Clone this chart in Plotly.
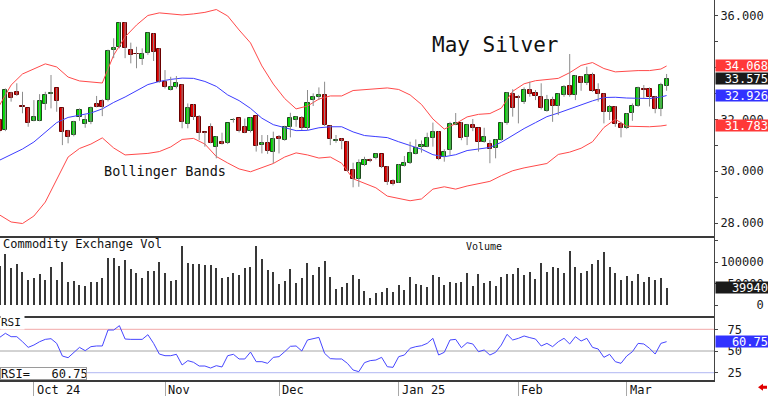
import plotly.graph_objects as go

# ---------------- data ----------------
tick_idx = [6, 29, 49, 70, 91, 110]
tick_labels = ["Oct 24", "Nov", "Dec", "Jan 25", "Feb", "Mar"]

opens = [31.97, 31.59, 33.01, 33.05, 32.52, 32.43, 31.96, 31.95, 32.60, 32.98,
         33.20, 32.43, 31.55, 31.40, 32.11, 31.83, 31.91, 32.60, 32.72, 32.75,
         34.70, 34.81, 35.74, 34.69, 34.55, 34.33, 34.56, 35.29, 34.71, 33.46,
         33.14, 33.24, 33.33, 31.83, 32.56, 32.11, 31.50, 31.70, 30.95, 31.14,
         31.08, 31.97, 32.04, 31.72, 31.57, 32.13, 31.00, 31.10, 30.76, 31.34,
         31.21, 31.70, 31.99, 32.04, 31.66, 32.75, 32.86, 32.95, 31.75, 31.18,
         31.26, 31.14, 30.05, 29.69, 30.24, 30.45, 30.50, 30.65, 30.18, 29.63,
         29.56, 30.20, 30.31, 30.67, 30.93, 30.95, 31.27, 31.53, 30.56, 30.82,
         31.80, 31.85, 31.34, 31.79, 31.66, 31.14, 31.05, 30.89, 31.21, 31.85,
         32.98, 32.86, 32.69, 33.14, 33.04, 32.88, 32.34, 32.75, 32.52, 32.95,
         33.29, 32.95, 33.65, 33.40, 33.72, 33.14, 32.98, 32.30, 32.47, 31.83,
         31.66, 32.24, 32.52, 33.19, 33.17, 32.88, 32.39, 33.29]
highs = [32.05, 33.20, 33.07, 33.40, 33.07, 32.45, 32.75, 32.98, 33.07, 33.72,
         33.22, 32.45, 31.60, 31.95, 32.43, 32.17, 32.50, 32.91, 32.78, 34.70,
         35.14, 35.76, 35.76, 34.97, 34.81, 34.75, 35.36, 35.33, 34.75, 33.91,
         33.65, 33.68, 33.36, 32.62, 32.60, 32.17, 31.53, 31.85, 31.36, 31.49,
         31.87, 32.05, 32.06, 32.04, 32.08, 32.15, 31.40, 31.40, 31.53, 31.40,
         31.76, 32.26, 32.13, 32.13, 33.14, 33.01, 33.24, 33.46, 31.77, 31.40,
         31.27, 31.16, 30.33, 30.46, 30.56, 30.50, 30.69, 30.67, 30.20, 29.69,
         30.28, 30.59, 31.14, 31.23, 31.19, 31.49, 31.88, 31.55, 30.85, 31.91,
         32.25, 31.90, 31.83, 32.02, 31.68, 31.68, 31.21, 31.23, 31.90, 33.06,
         33.17, 32.95, 33.24, 33.46, 33.14, 33.40, 32.95, 32.88, 33.01, 33.33,
         34.53, 33.72, 33.68, 34.04, 33.81, 33.40, 33.01, 32.56, 32.52, 31.91,
         32.24, 32.62, 33.27, 33.33, 33.24, 32.91, 33.42, 33.76]
lows = [31.50, 31.55, 32.69, 32.91, 32.24, 31.72, 31.93, 31.93, 32.37, 32.43,
        32.30, 31.01, 31.08, 31.35, 31.95, 31.68, 31.82, 32.47, 32.13, 32.70,
        34.37, 34.75, 34.37, 34.17, 33.98, 34.11, 34.50, 34.26, 33.42, 33.20,
        33.12, 33.20, 31.66, 31.66, 31.98, 31.21, 30.95, 31.08, 30.50, 31.03,
        31.05, 31.88, 31.50, 31.47, 31.50, 30.76, 30.69, 30.67, 30.31, 30.69,
        31.18, 31.31, 31.72, 31.59, 31.59, 32.52, 32.75, 31.75, 31.01, 31.10,
        30.85, 29.99, 29.38, 29.40, 30.20, 30.35, 30.46, 30.12, 29.47, 29.45,
        29.55, 30.18, 30.28, 30.65, 30.72, 30.93, 30.95, 30.43, 30.37, 30.63,
        31.78, 31.20, 31.01, 31.55, 30.76, 31.10, 30.31, 30.50, 31.18, 31.80,
        32.11, 31.85, 32.60, 32.88, 32.75, 32.39, 32.30, 31.91, 32.17, 32.88,
        32.88, 32.75, 33.11, 33.33, 33.07, 32.69, 31.85, 31.98, 31.72, 31.31,
        31.63, 31.95, 32.49, 32.82, 32.50, 32.24, 32.13, 33.11]
closes = [31.57, 33.14, 32.82, 32.95, 32.48, 31.88, 32.09, 32.72, 32.93, 33.02,
          32.73, 31.53, 31.33, 31.91, 32.37, 32.00, 32.43, 32.50, 32.50, 34.65,
          34.75, 35.74, 34.75, 34.49, 34.52, 34.53, 35.33, 34.62, 33.46, 33.24,
          33.24, 33.42, 31.91, 32.43, 32.08, 31.47, 31.48, 31.10, 31.34, 31.05,
          31.85, 32.00, 31.57, 31.49, 32.04, 30.98, 31.10, 30.79, 31.23, 31.23,
          31.72, 32.04, 32.08, 31.66, 32.65, 32.86, 32.95, 31.79, 31.23, 31.22,
          31.18, 30.02, 29.69, 30.30, 30.43, 30.41, 30.65, 30.18, 29.60, 29.50,
          30.24, 30.33, 30.72, 30.89, 31.00, 31.27, 31.53, 30.46, 30.76, 31.83,
          31.85, 31.27, 31.79, 31.66, 31.14, 31.34, 30.85, 31.21, 31.85, 33.04,
          32.43, 32.82, 33.14, 32.98, 32.91, 32.43, 32.75, 32.52, 32.97, 33.24,
          32.95, 33.68, 33.40, 33.72, 33.11, 32.97, 32.30, 32.50, 31.83, 31.66,
          32.21, 32.52, 33.20, 33.15, 32.86, 32.39, 33.33, 33.575]

volume = [90000, 118600, 85300, 95300, 76000, 58100, 63600, 71300, 58100, 89100,
          58100, 100800, 54300, 56600, 46500, 45000, 52700, 52700, 63600, 108500,
          108500, 90700, 104700, 82900, 73600, 63600, 79100, 79100, 100800, 75200,
          56600, 58100, 137200, 96900, 94600, 95300, 93000, 92200, 86800, 62000,
          65900, 75200, 69800, 86800, 89100, 137200, 107000, 81400, 76000, 48800,
          55800, 82900, 51900, 63600, 96900, 69800, 87600, 102300, 65900, 36400,
          41100, 50400, 69800, 60500, 33300, 15500, 27100, 31000, 38800, 29500,
          46500, 34900, 64300, 48800, 46500, 41100, 69800, 65900, 46500, 52700,
          50400, 52700, 75200, 44200, 71300, 51900, 56600, 45000, 65900, 72100,
          72100, 86800, 69800, 76000, 59700, 96900, 76000, 87600, 85300, 73600,
          125600, 87600, 73600, 79800, 94600, 104700, 122500, 89100, 73600, 58100,
          67400, 56600, 72100, 54300, 64300, 58100, 62000, 39940]

rsi = [65.7, 70.4, 66.5, 66.5, 60.7, 54.2, 56.9, 60.7, 63.4, 64.2,
       58.8, 44.2, 42.3, 48.5, 54.2, 50.4, 55.0, 55.8, 55.8, 74.2,
       74.2, 79.2, 63.8, 63.4, 63.4, 63.4, 68.8, 58.8, 46.5, 44.6,
       44.6, 46.2, 33.9, 38.9, 37.0, 32.7, 32.7, 30.4, 33.1, 31.6,
       44.6, 46.2, 40.8, 40.8, 48.8, 37.7, 37.7, 35.8, 42.7, 43.5,
       49.2, 55.4, 55.8, 50.0, 62.7, 64.6, 65.7, 47.3, 41.2, 40.8,
       40.8, 35.8, 28.1, 26.2, 36.6, 38.9, 39.6, 42.7, 31.9, 31.2,
       43.5, 45.4, 53.1, 55.0, 56.1, 58.8, 64.6, 45.4, 48.5, 62.7,
       63.4, 53.8, 59.6, 58.1, 49.2, 51.2, 45.4, 48.5, 56.9, 69.2,
       62.7, 64.6, 67.3, 65.4, 63.8, 55.8, 58.8, 55.0, 60.7, 64.6,
       58.1, 66.5, 61.5, 64.6, 54.2, 52.3, 42.7, 46.2, 37.7, 35.8,
       44.2, 49.2, 58.8, 58.1, 53.1, 46.5, 58.8, 60.75]

band_idx = list(range(0, 117, 2)) + [117]
bb_upper = [32.56, 33.33, 33.76, 33.95, 34.15, 34.03, 33.64, 33.49, 33.45, 33.41,
            34.49, 35.19, 35.65, 36.02, 36.12, 36.08, 36.04, 36.08, 36.14, 36.25,
            36.00, 35.46, 34.96, 34.07, 33.37, 32.81, 32.41, 32.52, 32.79, 32.91,
            32.91, 33.12, 33.15, 33.18, 33.22, 33.16, 32.95, 32.58, 32.02, 31.63,
            31.84, 32.10, 32.20, 32.23, 32.44, 33.09, 33.38, 33.50, 33.55, 33.59,
            33.81, 34.09, 34.20, 33.97, 33.84, 33.87, 33.89, 33.89, 33.95, 34.068]
bb_mid = [30.43, 30.65, 30.86, 31.13, 31.52, 31.88, 32.08, 32.17, 32.25, 32.41,
          32.66, 32.87, 33.10, 33.35, 33.47, 33.55, 33.60, 33.59, 33.47, 33.28,
          32.95, 32.73, 32.43, 32.05, 31.80, 31.67, 31.57, 31.58, 31.68, 31.72,
          31.72, 31.52, 31.38, 31.34, 31.30, 31.14, 30.98, 30.85, 30.64, 30.56,
          30.64, 30.80, 30.86, 30.92, 31.12, 31.40, 31.65, 31.88, 32.11, 32.25,
          32.41, 32.58, 32.72, 32.85, 32.86, 32.83, 32.81, 32.81, 32.87, 32.926]
bb_lower = [28.31, 28.04, 27.98, 28.27, 28.81, 29.66, 30.55, 30.88, 31.05, 31.29,
            30.90, 30.63, 30.67, 30.69, 30.76, 30.94, 31.23, 31.27, 31.05, 30.57,
            30.32, 30.09, 29.98, 30.13, 30.30, 30.55, 30.71, 30.63, 30.51, 30.55,
            30.31, 29.71, 29.52, 29.36, 29.04, 28.95, 28.86, 28.93, 29.31, 29.40,
            29.31, 29.43, 29.52, 29.61, 29.83, 30.02, 30.13, 30.22, 30.30, 30.65,
            30.74, 30.89, 31.14, 31.69, 32.01, 31.74, 31.72, 31.72, 31.75, 31.783]

price_ticks = [28, 29, 30, 31, 32, 33, 34, 35, 36]
price_ticktext = ["28.000", "", "30.000", "", "32.000", "", "", "", "36.000"]
vol_ticks = [0, 50000, 100000, 150000]
vol_ticktext = ["\u00a0\u00a0\u00a0\u00a0\u00a00", "\u00a050000", "100000", ""]
rsi_ticks = [25, 50, 75]
rsi_ticktext = ["\u00a025", "\u00a050", "\u00a075"]

# ---------------- layout geometry ----------------
W, H = 768, 396
PW, PH = 714, 380          # plot area in pixels
MONO = "DejaVu Sans Mono"

def py(px):                 # pixel row -> paper y
    return 1 - px / PH

def pxp(px):                # pixel column -> paper x
    return px / PW

dom_price = [py(236), 1]
dom_vol = [py(315.5), py(236)]
dom_rsi = [0, py(315.5)]

n = len(closes)
idx = list(range(n))

# wicks
wx, wy = [], []
for i in idx:
    wx += [i, i, None]
    wy += [lows[i], highs[i], None]

is_up = [c >= o for o, c in zip(opens, closes)]
body_base = [min(o, c) for o, c in zip(opens, closes)]
body_h = [abs(c - o) for o, c in zip(opens, closes)]
fill_col = ["#00dc00" if u else "#e00000" for u in is_up]
edge_col = ["#1c4a1c" if u else "#6a0000" for u in is_up]

fig = go.Figure()
fig.add_trace(go.Scatter(x=band_idx, y=bb_upper, mode="lines",
                         line=dict(color="#ff4a4a", width=1), xaxis="x", yaxis="y"))
fig.add_trace(go.Scatter(x=band_idx, y=bb_lower, mode="lines",
                         line=dict(color="#ff4a4a", width=1), xaxis="x", yaxis="y"))
fig.add_trace(go.Scatter(x=band_idx, y=bb_mid, mode="lines",
                         line=dict(color="#3c3cff", width=1), xaxis="x", yaxis="y"))
fig.add_trace(go.Scatter(x=wx, y=wy, mode="lines",
                         line=dict(color="#8c8c8c", width=1), xaxis="x", yaxis="y"))
fig.add_trace(go.Bar(x=idx, y=body_h, base=body_base, width=0.72,
                     marker=dict(color=fill_col, line=dict(color=edge_col, width=1)),
                     xaxis="x", yaxis="y"))
fig.add_trace(go.Bar(x=idx, y=volume, width=0.19,
                     marker=dict(color="#383838", line=dict(width=0)),
                     xaxis="x2", yaxis="y2"))
fig.add_trace(go.Scatter(x=idx, y=rsi, mode="lines",
                         line=dict(color="#4646ff", width=1), xaxis="x3", yaxis="y3"))

xr = [0.3 / 5.7, 0.3 / 5.7 + PW / 5.7]
axis_common = dict(showgrid=False, zeroline=False, showline=True,
                   linecolor="#3a3a3a", linewidth=2, ticks="", showticklabels=False,
                   range=xr, fixedrange=True)

yfont = dict(family=MONO, size=12, color="#1a1a1a")
ycommon = dict(side="right", showgrid=False, zeroline=False, showline=True,
               linecolor="#444444", linewidth=1, ticks="outside", ticklen=3,
               tickcolor="#444444", tickfont=yfont, fixedrange=True)

fig.update_layout(
    width=W, height=H,
    margin=dict(l=0, r=W - PW, t=0, b=H - PH),
    paper_bgcolor="white", plot_bgcolor="white",
    showlegend=False, bargap=0,
    xaxis=dict(axis_common, domain=[0, 1], anchor="y"),
    xaxis2=dict(axis_common, domain=[0, 1], anchor="y2", matches="x"),
    xaxis3=dict(axis_common, domain=[0, 1], anchor="y3", matches="x",
                tickvals=tick_idx, ticks="outside", ticklen=15,
                tickcolor="#a8a8a8", tickwidth=1),
    yaxis=dict(ycommon, domain=dom_price, anchor="x", range=[27.498, 36.618],
               tickvals=price_ticks, ticktext=price_ticktext),
    yaxis2=dict(ycommon, domain=dom_vol, anchor="x2", range=[-24419, 160465],
                tickvals=vol_ticks, ticktext=vol_ticktext),
    yaxis3=dict(ycommon, domain=dom_rsi, anchor="x3", range=[16.6, 90.9],
                tickvals=rsi_ticks, ticktext=rsi_ticktext),
)

# RSI reference lines
for lvl, col in [(75, "#f2a8a8"), (50, "#a6a6a6"), (25, "#b0b6f2")]:
    fig.add_shape(type="line", xref="paper", yref="y3", x0=0, x1=1, y0=lvl, y1=lvl,
                  line=dict(color=col, width=1), layer="below")

# red arrow bottom right
arrow = (f"M {pxp(758)},{py(387.3)} L {pxp(763)},{py(383.8)} L {pxp(763)},{py(385.8)} "
         f"L {pxp(767)},{py(385.8)} L {pxp(767)},{py(388.8)} L {pxp(763)},{py(388.8)} "
         f"L {pxp(763)},{py(390.8)} Z")
fig.add_shape(type="path", xref="paper", yref="paper", path=arrow,
              fillcolor="#e00000", line=dict(width=0))

ann = []
ann.append(dict(text="May Silver", xref="paper", yref="paper", x=pxp(495), y=py(45),
                xanchor="center", yanchor="middle", showarrow=False,
                font=dict(family=MONO, size=21, color="#111111")))
ann.append(dict(text="Bollinger Bands", xref="paper", yref="paper", x=pxp(164.5), y=py(171),
                xanchor="center", yanchor="middle", showarrow=False,
                font=dict(family=MONO, size=13.5, color="#111111")))
ann.append(dict(text="Commodity Exchange Vol", xref="paper", yref="paper", x=pxp(1), y=py(243.5),
                xanchor="left", yanchor="middle", showarrow=False,
                font=dict(family=MONO, size=12, color="#111111")))
ann.append(dict(text="Volume", xref="paper", yref="paper", x=pxp(483.5), y=py(246),
                xanchor="center", yanchor="middle", showarrow=False,
                font=dict(family=MONO, size=10, color="#111111")))
ann.append(dict(text="RSI", xref="paper", yref="paper", x=0, y=py(322.5),
                xanchor="left", yanchor="middle", showarrow=False, bgcolor="white",
                width=23, align="left", borderpad=0,
                font=dict(family=MONO, size=11, color="#111111")))
ann.append(dict(text="RSI=\u00a0\u00a0\u00a0" + f"{rsi[-1]:.2f}", xref="paper", yref="paper",
                x=0, y=py(373), xanchor="left", yanchor="middle", showarrow=False,
                bgcolor="white", bordercolor="#9a9a9a", borderwidth=1, borderpad=0,
                height=11, width=85, align="left",
                font=dict(family=MONO, size=12, color="#111111")))

# price / value tags on the right
tags = [(bb_upper[-1], "y", "#ff3838", f"{bb_upper[-1]:.3f}"),
        (closes[-1], "y", "#1a1a1a", f"{closes[-1]:.3f}"),
        (bb_mid[-1], "y", "#3232ff", f"{bb_mid[-1]:.3f}"),
        (bb_lower[-1], "y", "#ff3838", f"{bb_lower[-1]:.3f}"),
        (volume[-1], "y2", "#1a1a1a", f"{volume[-1]}"),
        (rsi[-1], "y3", "#3232ff", f"{rsi[-1]:.2f}")]
for val, yref, col, txt in tags:
    ann.append(dict(text=txt, xref="paper", yref=yref, x=1, y=val, xshift=1,
                    xanchor="left", yanchor="middle", showarrow=False,
                    bgcolor=col, width=52, height=11, borderpad=0, align="right",
                    font=dict(family=MONO, size=12, color="white")))

# x-axis labels, left aligned next to each tick line
for ti, tl in zip(tick_idx, tick_labels):
    ann.append(dict(text=tl, xref="x3", yref="paper", x=ti, y=0, xshift=1, yshift=-1,
                    xanchor="left", yanchor="top", showarrow=False,
                    font=dict(family=MONO, size=12, color="#111111")))

fig.update_layout(annotations=ann)
fig.write_html("out.html", config={"displayModeBar": False},
               post_script="document.body.style.margin='0px';")
